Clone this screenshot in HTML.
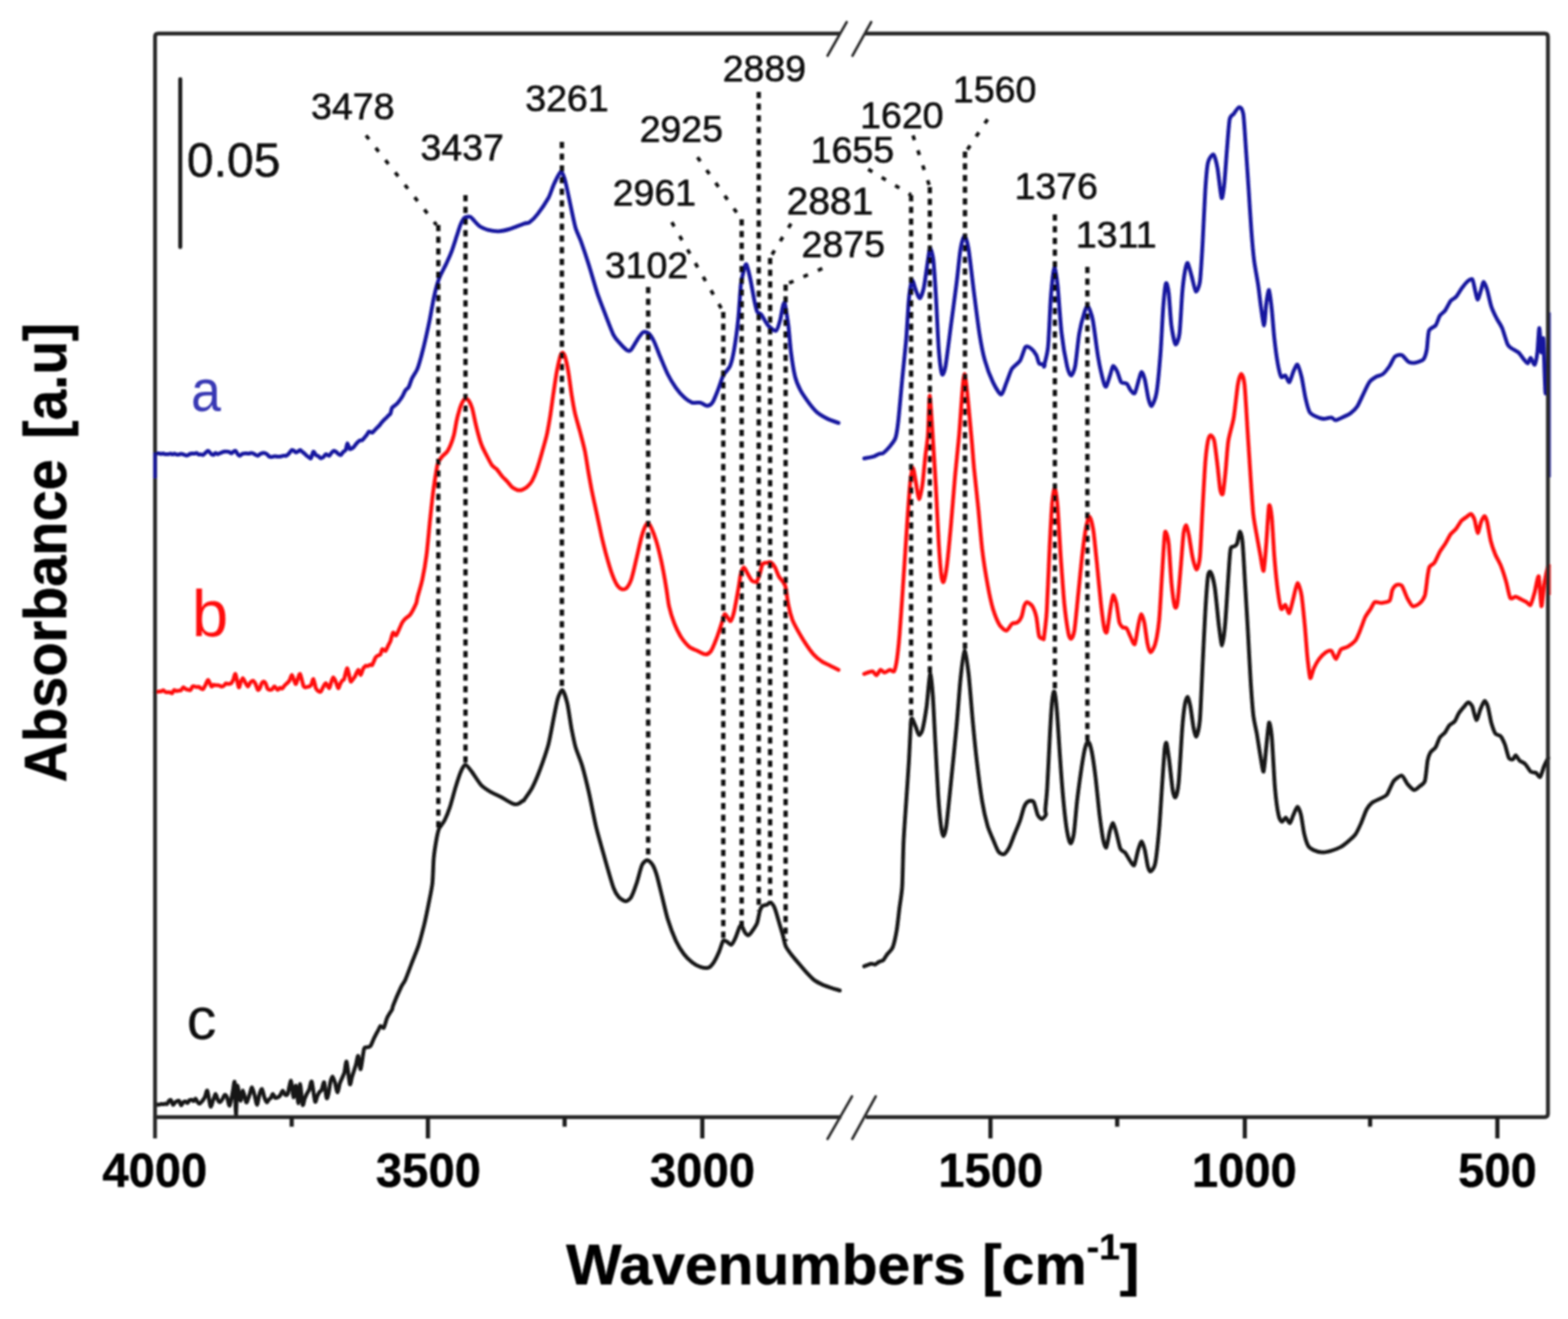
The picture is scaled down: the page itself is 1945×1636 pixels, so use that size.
<!DOCTYPE html>
<html lang="en"><head><meta charset="utf-8"><title>FTIR spectra</title>
<style>
html,body{margin:0;padding:0;background:#fff;}
body{width:1945px;height:1636px;overflow:hidden;}
svg{display:block;font-family:"Liberation Sans",Arial,Helvetica,sans-serif;}
.c{fill:none;stroke-width:4.8;stroke-linejoin:round;stroke-linecap:round;}
.d{fill:none;stroke:#0a0a0a;stroke-width:5.3;stroke-dasharray:7.8 6.7;}
.ds{fill:none;stroke:#111;stroke-width:4.4;stroke-dasharray:6 13.5;}
.f{fill:none;stroke:#262626;stroke-width:4.8;stroke-linecap:butt;}
.t{fill:none;stroke:#1e1e1e;stroke-width:5.2;}
.pk{font-size:46.5px;fill:#0a0a0a;stroke:#0a0a0a;stroke-width:0.7;}
.tk{font-size:58.5px;font-weight:bold;fill:#000;stroke:#000;stroke-width:0.5;text-anchor:middle;}
.ax{font-weight:bold;fill:#000;stroke:#000;stroke-width:0.6;}
</style></head><body>
<svg role="img" aria-label="FTIR absorbance spectra a, b and c versus wavenumbers" width="1945" height="1636" viewBox="0 0 1945 1636">
<defs><filter id="bl" x="-2%" y="-2%" width="104%" height="104%"><feGaussianBlur stdDeviation="0.9"/></filter></defs>
<rect width="1945" height="1636" fill="#fff"/>
<g filter="url(#bl)">
<path class="c" stroke="#161616" d="M192.3 1370.5C192.5 1370.5 193.0 1371.0 193.4 1370.9C193.8 1370.8 195.1 1369.9 195.6 1369.8C196.2 1369.8 197.3 1370.3 197.9 1370.2C198.4 1370.2 199.6 1369.2 200.2 1369.2C200.7 1369.1 201.9 1369.8 202.4 1369.7C203.0 1369.7 204.1 1368.9 204.7 1368.9C205.2 1368.8 206.6 1369.8 207.1 1369.4C207.7 1369.0 209.0 1366.1 209.6 1365.5C210.2 1364.9 211.5 1364.0 212.1 1364.6C212.7 1365.2 214.0 1370.0 214.6 1370.3C215.1 1370.7 216.4 1368.2 217.0 1367.6C217.6 1367.1 219.0 1366.1 219.6 1365.8C220.2 1365.5 221.5 1364.9 222.2 1365.5C222.8 1366.1 224.1 1370.7 224.7 1370.9C225.3 1371.1 226.7 1367.8 227.3 1367.2C227.9 1366.7 229.3 1366.1 229.9 1366.2C230.5 1366.3 231.8 1368.3 232.4 1368.1C233.1 1367.9 234.4 1365.2 235.0 1364.7C235.6 1364.3 237.0 1364.0 237.6 1364.1C238.2 1364.3 239.5 1365.8 240.1 1365.7C240.6 1365.5 241.9 1362.6 242.5 1362.7C243.1 1362.8 244.4 1366.0 245.0 1366.7C245.6 1367.5 246.9 1368.9 247.5 1368.9C248.0 1368.9 249.1 1367.8 249.9 1366.8C250.7 1365.9 253.2 1362.7 254.0 1361.1C254.9 1359.4 256.3 1351.5 257.1 1352.8C258.0 1354.2 260.4 1370.9 261.2 1372.4C262.1 1373.8 263.6 1366.7 264.3 1364.8C265.1 1363.0 266.7 1357.1 267.4 1356.9C268.1 1356.8 269.4 1362.6 270.0 1363.8C270.6 1365.1 271.9 1367.2 272.5 1367.2C273.2 1367.2 274.9 1364.9 275.6 1363.8C276.4 1362.7 278.0 1358.2 278.7 1358.0C279.5 1357.7 281.1 1359.9 281.8 1361.5C282.5 1363.1 284.0 1372.4 284.9 1371.3C285.7 1370.3 288.3 1356.3 289.0 1352.8C289.7 1349.4 290.6 1338.8 291.1 1342.5C291.5 1346.2 292.3 1383.2 292.7 1383.7C293.1 1384.2 293.7 1348.9 294.3 1346.7C295.0 1344.4 297.4 1364.4 298.3 1365.2C299.1 1365.9 300.5 1352.6 301.3 1352.8C302.2 1353.1 304.7 1366.0 305.4 1367.2C306.2 1368.4 307.3 1364.3 307.8 1362.9C308.4 1361.5 309.7 1357.2 310.2 1355.5C310.8 1353.8 312.0 1348.4 312.6 1348.7C313.3 1349.0 315.0 1355.5 315.7 1358.1C316.5 1360.7 318.1 1370.4 318.8 1370.3C319.6 1370.2 321.2 1359.5 321.9 1357.2C322.6 1354.8 324.2 1350.2 325.0 1350.8C325.7 1351.3 327.3 1359.7 328.1 1361.6C328.8 1363.6 330.5 1367.0 331.2 1367.2C331.8 1367.5 333.0 1364.2 333.6 1363.6C334.1 1363.0 335.4 1362.7 336.0 1361.9C336.5 1361.1 337.7 1357.0 338.4 1356.9C339.0 1356.9 340.7 1361.2 341.4 1361.7C342.2 1362.2 343.8 1361.4 344.5 1361.1C345.3 1360.7 346.9 1359.5 347.6 1358.5C348.3 1357.5 350.0 1352.9 350.7 1352.8C351.4 1352.8 353.0 1357.4 353.8 1357.9C354.5 1358.4 356.0 1359.0 356.9 1356.9C357.7 1354.8 360.1 1340.0 361.0 1340.5C361.8 1341.0 363.3 1360.3 364.1 1361.1C364.8 1361.8 366.4 1345.8 367.1 1346.7C367.9 1347.5 369.6 1368.5 370.2 1368.3C370.8 1368.0 371.7 1344.4 372.3 1344.6C372.9 1344.8 374.7 1368.1 375.4 1370.3C376.1 1372.5 377.3 1364.5 377.9 1362.9C378.6 1361.3 379.8 1358.3 380.5 1356.9C381.2 1355.6 382.9 1353.2 383.6 1351.4C384.3 1349.5 385.8 1339.7 386.7 1341.5C387.5 1343.3 390.0 1364.0 390.8 1366.2C391.6 1368.4 392.8 1361.5 393.4 1360.1C394.0 1358.8 395.3 1355.9 395.9 1354.9C396.6 1353.9 398.3 1353.3 399.0 1351.9C399.8 1350.4 401.4 1341.3 402.1 1342.5C402.8 1343.8 404.5 1360.5 405.2 1362.1C405.9 1363.7 407.0 1358.4 407.6 1355.9C408.2 1353.4 409.4 1343.8 410.0 1341.4C410.6 1338.9 411.7 1335.2 412.4 1335.3C413.0 1335.5 414.7 1340.2 415.5 1342.5C416.2 1344.8 417.8 1354.8 418.6 1354.9C419.3 1355.0 420.9 1345.8 421.6 1343.6C422.4 1341.4 424.1 1338.0 424.7 1336.4C425.4 1334.7 426.7 1332.3 427.3 1330.0C427.9 1327.6 429.1 1315.1 429.9 1316.8C430.7 1318.6 433.2 1342.3 434.0 1344.6C434.8 1346.9 435.9 1337.9 436.6 1335.9C437.2 1333.9 438.5 1330.1 439.1 1328.1C439.7 1326.2 441.1 1322.0 441.7 1319.8C442.3 1317.6 443.6 1308.9 444.3 1309.6C444.9 1310.4 446.5 1327.1 447.4 1326.1C448.2 1325.1 450.6 1304.7 451.5 1301.4C452.3 1298.2 453.5 1299.3 454.2 1299.0C454.9 1298.7 456.3 1298.9 456.9 1298.7C457.6 1298.5 458.9 1298.6 459.7 1297.3C460.5 1296.0 463.0 1289.8 463.8 1288.0C464.6 1286.3 465.9 1284.0 466.5 1282.7C467.2 1281.5 468.6 1278.8 469.3 1277.6C469.9 1276.4 471.2 1273.0 472.0 1272.6C472.9 1272.3 475.2 1275.9 476.1 1274.7C477.1 1273.4 479.0 1265.1 480.3 1262.3C481.5 1259.6 485.5 1253.8 486.4 1252.1C487.3 1250.3 486.2 1250.8 487.6 1247.4C488.9 1244.0 495.9 1227.7 497.7 1223.9C499.5 1220.0 501.1 1219.1 502.7 1215.5C504.3 1211.8 509.1 1198.9 511.1 1193.6C513.1 1188.4 517.7 1177.4 519.5 1171.7C521.3 1166.1 524.8 1152.4 526.3 1146.5C527.7 1140.7 530.1 1129.0 531.3 1123.0C532.5 1116.9 535.5 1103.1 536.3 1096.1C537.1 1089.1 537.4 1071.2 538.0 1064.6C538.6 1058.0 540.6 1045.5 541.4 1041.0C542.2 1036.6 543.5 1030.4 544.7 1027.6C546.0 1024.8 549.9 1020.7 551.5 1017.5C553.1 1014.3 556.6 1005.5 558.2 1000.7C559.8 995.8 563.3 982.4 564.9 977.1C566.5 971.9 570.2 960.4 571.7 957.0C573.1 953.5 575.8 948.6 577.4 948.6C579.0 948.6 582.8 953.9 585.1 957.0C587.4 960.0 594.0 970.8 596.9 973.8C599.7 976.8 605.6 980.4 608.6 982.2C611.7 984.0 618.9 987.2 622.1 988.9C625.3 990.6 633.1 995.6 635.5 996.6C638.0 997.7 640.5 997.8 642.3 997.3C644.0 996.8 649.1 992.9 650.0 992.3C650.9 991.7 648.8 994.1 650.0 992.3C651.2 990.5 657.7 981.8 660.1 977.1C662.5 972.5 667.8 960.1 670.2 953.6C672.6 947.1 678.2 931.0 680.3 923.3C682.3 915.7 685.6 896.6 687.0 889.7C688.4 882.9 690.7 870.2 692.0 866.2C693.3 862.1 696.3 855.3 697.7 856.1C699.2 856.9 702.5 867.3 703.8 872.9C705.1 878.6 707.6 896.7 708.8 903.2C710.1 909.6 712.3 921.1 713.9 926.7C715.5 932.4 720.3 943.4 722.3 950.2C724.3 957.1 728.7 975.0 730.7 983.9C732.7 992.7 736.9 1014.9 739.1 1024.2C741.3 1033.5 746.6 1052.0 749.2 1061.2C751.8 1070.4 758.7 1094.9 761.0 1101.1C763.2 1107.3 765.9 1110.9 767.7 1112.9C769.5 1114.9 774.3 1117.9 776.1 1117.9C777.9 1117.9 781.2 1115.5 782.8 1112.9C784.4 1110.3 787.9 1100.9 789.5 1096.1C791.2 1091.3 794.7 1076.5 796.3 1073.0C797.9 1069.5 801.4 1066.9 803.0 1066.9C804.6 1066.9 808.3 1070.7 809.7 1073.0C811.1 1075.3 813.4 1081.2 814.8 1086.0C816.2 1090.8 819.9 1106.4 821.5 1112.9C823.1 1119.4 826.2 1133.3 828.2 1139.8C830.2 1146.3 835.9 1161.5 838.3 1166.7C840.7 1171.9 846.0 1180.3 848.4 1183.5C850.8 1186.7 856.1 1191.7 858.5 1193.6C860.9 1195.5 866.2 1198.5 868.6 1199.3C871.0 1200.1 876.6 1201.0 878.7 1200.3C880.7 1199.6 883.8 1196.0 885.4 1193.6C887.0 1191.2 890.7 1183.4 892.1 1180.2C893.5 1176.9 895.9 1168.1 897.2 1166.7C898.4 1165.3 901.0 1167.8 902.2 1168.4C903.4 1169.0 906.0 1172.4 907.2 1171.7C908.5 1171.1 911.1 1166.0 912.3 1163.3C913.5 1160.7 916.4 1151.7 917.3 1149.9C918.3 1148.1 919.2 1147.4 920.0 1148.2C920.8 1149.0 923.0 1155.2 924.1 1156.6C925.1 1158.0 927.2 1160.4 928.4 1160.0C929.6 1159.6 932.9 1155.1 934.1 1153.3C935.4 1151.4 938.2 1147.7 939.2 1144.8C940.2 1142.0 941.7 1132.3 942.6 1129.7C943.4 1127.2 944.9 1124.5 945.9 1123.7C946.9 1122.8 949.7 1122.8 951.0 1122.3C952.2 1121.8 954.8 1119.1 956.0 1119.6C957.2 1120.1 959.8 1123.5 961.0 1126.4C962.3 1129.2 964.9 1139.1 966.1 1143.2C967.3 1147.2 970.1 1156.3 971.1 1160.0C972.1 1163.6 973.3 1170.6 974.5 1173.4C975.7 1176.3 979.4 1181.1 981.2 1183.5C983.0 1185.9 987.4 1191.0 989.6 1193.6C991.8 1196.2 997.3 1202.8 999.7 1205.4C1002.1 1208.0 1007.4 1213.6 1009.8 1215.5C1012.2 1217.4 1017.5 1220.0 1019.9 1221.2C1022.3 1222.3 1027.4 1224.0 1030.0 1224.9C1032.6 1225.8 1040.3 1228.1 1041.7 1228.6"/>
<path class="c" stroke="#161616" d="M1072.0 1198.6C1073.0 1198.2 1078.8 1195.6 1080.4 1195.3C1082.0 1195.0 1084.3 1196.6 1085.5 1196.3C1086.7 1196.0 1089.3 1193.6 1090.5 1192.9C1091.7 1192.3 1094.3 1192.0 1095.6 1190.9C1096.8 1189.8 1099.2 1185.4 1100.6 1183.5C1102.0 1181.6 1105.9 1178.7 1107.3 1175.1C1108.7 1171.5 1111.4 1159.1 1112.4 1153.3C1113.4 1147.4 1114.9 1132.8 1115.7 1126.4C1116.5 1119.9 1118.5 1109.3 1119.1 1099.5C1119.7 1089.6 1120.2 1057.1 1120.8 1044.4C1121.4 1031.7 1123.3 1006.1 1124.1 994.0C1124.9 981.9 1126.8 955.2 1127.5 943.5C1128.2 931.8 1129.4 902.7 1129.8 896.4C1130.3 890.2 1130.8 890.8 1131.5 891.4C1132.3 892.0 1134.9 899.1 1135.9 901.5C1136.9 903.9 1138.9 911.2 1139.9 911.6C1140.9 912.0 1143.2 909.1 1144.3 904.8C1145.4 900.6 1148.2 884.5 1149.4 876.3C1150.5 868.0 1152.8 837.5 1153.7 835.9C1154.7 834.3 1156.3 851.9 1157.1 862.8C1157.9 873.7 1159.6 911.8 1160.5 926.7C1161.3 941.6 1163.0 975.5 1163.8 987.2C1164.6 998.9 1166.4 1018.2 1167.2 1024.2C1167.9 1030.2 1169.4 1037.0 1170.2 1037.0C1171.0 1037.0 1172.8 1032.2 1173.9 1024.2C1175.0 1016.2 1178.1 984.9 1179.6 970.4C1181.1 955.9 1184.9 918.5 1186.3 903.2C1187.8 887.8 1190.2 854.1 1191.4 842.6C1192.6 831.1 1195.2 808.1 1196.4 807.3C1197.6 806.5 1200.3 825.6 1201.5 835.9C1202.7 846.2 1205.3 880.2 1206.5 893.1C1207.7 906.0 1210.2 931.4 1211.6 943.5C1213.0 955.6 1216.7 984.3 1218.3 994.0C1219.9 1003.6 1223.4 1018.6 1225.0 1024.2C1226.6 1029.9 1230.1 1037.2 1231.7 1041.0C1233.4 1044.9 1236.8 1053.9 1238.5 1056.2C1240.1 1058.4 1243.6 1060.1 1245.2 1059.5C1246.8 1058.9 1250.3 1054.1 1251.9 1051.1C1253.5 1048.1 1257.0 1038.3 1258.6 1034.3C1260.3 1030.3 1264.0 1021.5 1265.4 1017.5C1266.8 1013.5 1269.2 1003.5 1270.4 1000.7C1271.6 997.9 1274.0 994.7 1275.5 994.0C1276.9 993.2 1280.8 992.6 1282.2 994.6C1283.6 996.6 1286.0 1008.2 1287.2 1010.8C1288.4 1013.3 1291.1 1015.8 1292.3 1015.8C1293.5 1015.8 1296.8 1012.2 1297.3 1010.8C1297.8 1009.4 1296.5 1008.1 1296.7 1004.0C1296.9 1000.0 1298.3 988.4 1299.0 977.1C1299.7 965.8 1301.7 922.8 1302.4 909.9C1303.1 897.0 1304.4 875.8 1305.1 869.5C1305.7 863.3 1307.1 856.2 1307.8 857.8C1308.5 859.4 1310.3 872.7 1311.1 883.0C1312.0 893.3 1314.2 930.2 1315.2 943.5C1316.1 956.8 1318.2 983.5 1319.2 994.0C1320.2 1004.4 1322.5 1024.7 1323.6 1030.9C1324.6 1037.2 1326.9 1045.7 1328.0 1046.1C1329.0 1046.5 1331.0 1040.6 1332.0 1034.3C1333.0 1028.1 1335.0 1002.8 1336.0 994.0C1337.0 985.1 1339.3 968.0 1340.4 960.3C1341.5 952.7 1344.4 934.9 1345.4 930.1C1346.5 925.2 1348.5 920.0 1349.5 920.0C1350.5 920.0 1352.7 924.8 1353.8 930.1C1355.0 935.3 1357.7 954.0 1358.9 963.7C1360.1 973.4 1362.8 1001.5 1363.9 1010.8C1365.1 1020.1 1367.3 1036.2 1368.3 1041.0C1369.3 1045.9 1371.3 1052.3 1372.3 1051.1C1373.3 1049.9 1375.7 1034.6 1376.7 1030.9C1377.7 1027.3 1379.7 1020.5 1380.7 1020.9C1381.8 1021.3 1384.0 1030.5 1385.1 1034.3C1386.2 1038.1 1388.5 1050.0 1389.8 1052.8C1391.1 1055.6 1394.4 1056.0 1395.9 1057.8C1397.3 1059.7 1400.6 1066.1 1401.9 1067.9C1403.3 1069.8 1405.8 1074.6 1407.0 1073.0C1408.1 1071.4 1410.6 1058.0 1411.7 1054.5C1412.8 1051.0 1415.0 1043.7 1416.1 1043.7C1417.1 1043.7 1419.2 1050.8 1420.1 1054.5C1421.0 1058.2 1422.9 1071.5 1423.8 1074.7C1424.6 1077.8 1426.1 1081.1 1427.2 1080.7C1428.2 1080.3 1431.6 1077.7 1432.9 1071.3C1434.2 1064.9 1436.9 1038.9 1437.9 1027.6C1438.9 1016.3 1440.5 988.8 1441.3 977.1C1442.1 965.4 1444.0 936.7 1444.6 930.1C1445.3 923.4 1446.3 920.0 1447.0 921.7C1447.7 923.3 1449.4 936.5 1450.4 943.5C1451.3 950.6 1453.8 975.1 1454.7 980.5C1455.7 986.0 1457.2 990.1 1458.1 988.9C1459.0 987.7 1461.1 980.7 1462.1 970.4C1463.1 960.1 1465.6 914.9 1466.5 903.2C1467.4 891.5 1469.1 877.5 1469.9 872.9C1470.7 868.3 1472.4 864.1 1473.2 864.5C1474.0 864.9 1475.7 871.6 1476.6 876.3C1477.5 880.9 1479.7 898.7 1480.6 903.2C1481.5 907.6 1483.1 914.5 1484.0 913.3C1484.9 912.0 1487.4 903.6 1488.4 893.1C1489.3 882.6 1490.9 842.0 1491.7 825.8C1492.5 809.7 1494.3 771.9 1495.1 758.6C1495.9 745.3 1497.6 720.7 1498.4 714.9C1499.2 709.0 1500.8 708.2 1501.8 709.8C1502.8 711.4 1505.6 720.4 1506.8 728.3C1508.1 736.2 1510.8 766.7 1511.9 775.4C1513.0 784.1 1515.0 800.6 1515.9 800.6C1516.9 800.6 1518.7 785.7 1519.6 775.4C1520.6 765.1 1522.9 726.2 1523.7 714.9C1524.5 703.6 1525.5 685.7 1526.4 681.2C1527.2 676.8 1529.4 678.7 1530.4 677.9C1531.4 677.1 1533.5 676.7 1534.4 674.5C1535.3 672.3 1537.0 659.8 1537.8 659.4C1538.6 659.0 1540.3 663.3 1541.1 671.1C1542.0 679.0 1543.7 711.6 1544.5 724.9C1545.3 738.3 1547.1 768.0 1547.9 782.1C1548.7 796.2 1550.4 830.1 1551.2 842.6C1552.0 855.1 1553.7 878.3 1554.6 886.4C1555.5 894.4 1557.9 903.8 1559.0 909.9C1560.0 915.9 1562.3 931.1 1563.3 936.8C1564.3 942.4 1566.5 958.2 1567.4 957.0C1568.3 955.8 1569.9 934.0 1570.7 926.7C1571.5 919.4 1573.3 898.1 1574.1 896.4C1574.9 894.8 1576.6 903.6 1577.5 913.3C1578.4 922.9 1580.5 965.4 1581.5 977.1C1582.5 988.8 1584.8 1005.7 1585.9 1010.8C1586.9 1015.8 1589.2 1018.8 1590.2 1019.2C1591.3 1019.6 1593.8 1013.9 1594.9 1014.1C1596.1 1014.3 1598.9 1021.3 1600.0 1020.9C1601.1 1020.5 1603.2 1013.2 1604.4 1010.8C1605.5 1008.3 1608.3 1000.7 1609.4 1000.7C1610.5 1000.7 1612.8 1006.7 1613.8 1010.8C1614.8 1014.8 1616.7 1029.7 1617.8 1034.3C1618.9 1038.9 1621.4 1047.0 1622.9 1049.4C1624.3 1051.9 1627.6 1053.6 1629.6 1054.5C1631.6 1055.4 1637.0 1057.1 1639.7 1057.2C1642.3 1057.3 1648.6 1056.0 1651.4 1055.2C1654.3 1054.4 1660.6 1051.9 1663.2 1050.5C1665.8 1049.0 1671.1 1044.7 1673.3 1042.7C1675.5 1040.8 1679.9 1036.9 1681.7 1034.3C1683.5 1031.7 1686.8 1024.5 1688.4 1020.9C1690.0 1017.2 1693.5 1007.1 1695.2 1004.0C1696.8 1001.0 1699.9 997.3 1701.9 995.6C1703.9 994.0 1709.7 991.8 1712.0 990.6C1714.2 989.4 1718.4 988.2 1720.4 985.6C1722.4 982.9 1726.6 971.6 1728.8 968.7C1731.0 965.9 1736.9 961.6 1738.9 962.0C1740.9 962.4 1743.8 970.0 1745.6 972.1C1747.4 974.2 1752.2 979.4 1754.0 979.8C1755.8 980.2 1759.1 976.8 1760.7 975.5C1762.3 974.1 1766.2 972.6 1767.5 968.7C1768.7 964.9 1770.0 947.8 1770.8 943.5C1771.6 939.3 1773.0 935.4 1774.2 933.4C1775.4 931.4 1779.5 928.9 1780.9 926.7C1782.3 924.5 1784.5 917.2 1785.9 914.9C1787.4 912.7 1791.3 910.0 1792.7 908.2C1794.1 906.4 1796.3 901.4 1797.7 899.8C1799.1 898.2 1803.0 896.6 1804.4 894.8C1805.9 892.9 1808.1 886.9 1809.5 884.7C1810.9 882.5 1814.8 877.9 1816.2 876.3C1817.6 874.7 1820.0 871.2 1821.3 871.2C1822.5 871.2 1825.1 873.6 1826.3 876.3C1827.5 878.9 1830.1 892.7 1831.3 893.1C1832.6 893.5 1835.2 882.5 1836.4 879.6C1837.6 876.8 1840.3 869.9 1841.4 869.5C1842.5 869.1 1844.5 873.0 1845.5 876.3C1846.5 879.5 1848.7 892.4 1849.8 896.4C1851.0 900.5 1853.5 907.9 1854.9 909.9C1856.3 911.9 1860.2 911.6 1861.6 913.3C1863.0 914.9 1865.4 920.1 1866.7 923.3C1867.9 926.6 1870.5 937.9 1871.7 940.2C1872.9 942.4 1875.7 942.2 1876.7 941.8C1877.7 941.4 1879.1 936.6 1880.1 936.8C1881.1 937.0 1883.7 942.2 1885.1 943.5C1886.6 944.8 1890.3 945.9 1891.9 947.6C1893.5 949.2 1897.0 955.6 1898.6 957.0C1900.2 958.3 1903.9 957.8 1905.3 958.6C1906.7 959.5 1909.2 964.7 1910.4 963.7C1911.6 962.7 1914.2 953.1 1915.4 950.2C1916.6 947.4 1919.8 941.4 1920.5 940.2"/>
<path class="c" stroke="#ff1010" d="M192.3 858.8C192.4 858.7 192.4 858.4 192.8 858.3C193.1 858.2 194.6 858.0 195.2 858.0C195.8 857.9 197.1 857.8 197.7 857.7C198.3 857.6 199.6 857.6 200.2 857.4C200.7 857.2 202.0 856.1 202.6 856.2C203.2 856.4 204.7 858.1 205.4 858.4C206.0 858.7 207.4 858.7 208.1 858.7C208.8 858.8 210.2 858.6 210.8 858.7C211.5 858.9 212.8 860.2 213.4 859.9C214.0 859.5 215.4 856.1 216.0 855.8C216.6 855.5 217.9 856.9 218.6 857.0C219.2 857.1 220.5 856.7 221.1 856.7C221.8 856.6 223.5 856.9 224.2 856.4C225.0 855.9 226.6 852.7 227.3 852.5C228.0 852.3 229.6 854.3 230.4 854.7C231.1 855.1 232.8 855.5 233.5 855.6C234.2 855.8 235.6 856.4 236.2 855.9C236.9 855.3 238.3 851.9 239.0 851.3C239.6 850.8 241.1 851.4 241.7 851.5C242.3 851.6 243.7 852.1 244.3 852.2C244.9 852.2 246.2 851.8 246.8 852.0C247.5 852.3 248.8 853.7 249.4 854.0C250.0 854.3 251.3 855.2 252.0 854.6C252.7 854.0 254.3 850.6 255.1 849.2C255.8 847.9 257.3 843.0 258.1 843.3C259.0 843.6 261.5 850.8 262.3 851.5C263.1 852.2 264.2 849.5 264.8 849.3C265.4 849.1 266.8 849.8 267.4 849.9C268.0 849.9 269.4 849.8 270.0 849.9C270.6 849.9 271.9 850.3 272.5 850.5C273.2 850.7 274.5 851.6 275.1 851.6C275.7 851.6 277.1 851.0 277.7 850.5C278.3 850.0 279.6 847.8 280.3 847.6C280.9 847.3 282.0 848.5 282.8 848.4C283.6 848.4 286.1 848.1 286.9 847.4C287.7 846.7 288.9 844.3 289.5 842.9C290.1 841.6 291.3 834.9 292.1 836.1C292.9 837.2 295.4 851.4 296.2 852.5C297.0 853.7 298.1 846.8 298.8 845.4C299.4 844.1 300.7 841.1 301.3 841.2C302.0 841.4 303.7 845.6 304.4 846.8C305.2 848.1 306.8 851.6 307.5 851.5C308.2 851.5 309.9 847.3 310.6 846.4C311.3 845.6 312.9 844.1 313.7 844.3C314.4 844.5 316.0 846.6 316.8 848.0C317.5 849.3 319.2 854.9 319.8 855.6C320.5 856.3 321.7 854.6 322.2 853.7C322.8 852.7 324.1 848.6 324.6 847.6C325.2 846.6 326.5 845.3 327.0 845.3C327.6 845.3 328.9 846.6 329.4 847.6C330.0 848.7 331.3 853.2 331.8 854.1C332.4 855.1 333.6 855.5 334.2 855.6C334.9 855.7 336.6 855.6 337.3 855.1C338.1 854.6 339.5 851.4 340.4 851.5C341.3 851.6 343.7 855.4 344.5 855.6C345.3 855.8 346.6 853.3 347.3 853.1C347.9 852.9 349.4 854.4 350.0 854.0C350.7 853.7 352.1 851.3 352.8 850.5C353.4 849.7 355.1 848.3 355.8 847.6C356.6 846.8 358.2 845.6 358.9 844.3C359.7 843.1 361.3 837.2 362.0 837.1C362.7 837.0 364.0 842.1 364.6 843.5C365.2 844.8 366.5 848.7 367.1 848.4C367.8 848.1 369.1 842.6 369.7 841.1C370.3 839.6 371.5 835.0 372.3 836.1C373.1 837.2 375.6 848.5 376.4 850.5C377.2 852.5 378.2 852.4 378.8 852.6C379.4 852.8 380.6 852.1 381.2 851.9C381.8 851.8 383.0 851.9 383.6 851.5C384.2 851.1 385.6 849.9 386.2 848.8C386.8 847.6 388.1 841.7 388.7 842.3C389.4 842.8 391.1 851.8 391.8 853.6C392.6 855.4 394.2 856.7 394.9 857.2C395.7 857.7 397.3 858.3 398.0 857.7C398.7 857.0 400.3 853.0 401.1 851.7C401.8 850.5 403.3 847.2 404.2 847.4C405.0 847.6 407.5 853.7 408.3 853.6C409.1 853.4 410.2 847.9 410.8 846.3C411.5 844.7 412.7 840.3 413.4 840.2C414.1 840.1 415.8 843.9 416.5 845.6C417.2 847.2 418.9 853.2 419.6 853.6C420.2 853.9 421.4 849.5 422.0 848.4C422.6 847.3 423.8 845.0 424.4 844.3C425.0 843.6 426.1 844.1 426.8 842.3C427.5 840.4 429.8 829.6 430.5 828.9C431.2 828.2 432.2 834.4 432.8 836.3C433.3 838.3 434.4 844.6 435.0 845.3C435.6 846.1 437.0 843.4 437.6 842.7C438.2 841.9 439.4 840.6 440.2 839.2C441.0 837.8 443.4 831.2 444.3 831.0C445.1 830.7 446.6 837.3 447.4 837.1C448.1 836.9 449.7 830.8 450.4 829.5C451.2 828.1 452.8 826.2 453.5 825.8C454.2 825.4 455.6 826.3 456.3 826.2C456.9 826.0 458.3 824.7 459.0 824.5C459.7 824.3 460.9 825.9 461.7 824.8C462.6 823.7 465.0 816.9 465.9 815.5C466.7 814.1 468.2 813.6 468.9 813.1C469.7 812.6 471.4 812.4 472.0 811.4C472.6 810.5 473.3 805.7 474.1 805.2C474.8 804.8 477.3 807.8 478.2 807.3C479.1 806.8 480.5 802.6 481.3 801.1C482.0 799.7 483.6 796.9 484.4 795.0C485.1 793.0 486.6 785.5 487.5 784.7C488.3 783.8 490.2 789.2 491.6 787.8C492.9 786.3 497.4 774.8 498.8 772.3C500.1 769.9 501.6 768.4 502.9 767.2C504.1 766.0 507.5 764.3 509.0 762.1C510.6 759.8 515.1 751.0 516.2 748.5C517.2 745.9 516.9 744.5 517.9 740.8C518.8 737.2 522.7 724.6 524.0 718.2C525.4 711.8 528.1 696.0 529.2 687.4C530.3 678.7 532.3 655.6 533.3 646.2C534.3 636.8 536.4 616.9 537.4 609.2C538.4 601.6 540.8 586.8 541.5 582.5C542.3 578.1 542.7 575.2 543.6 573.2C544.4 571.2 547.4 567.6 548.7 566.0C550.1 564.4 553.7 561.6 554.9 559.8C556.1 558.1 558.0 554.1 559.0 551.6C560.0 549.2 562.2 542.7 563.1 539.3C564.0 535.8 565.5 526.3 566.2 522.8C566.9 519.4 568.4 513.3 569.3 510.5C570.1 507.7 572.4 501.1 573.4 499.2C574.4 497.3 576.5 494.7 577.5 494.4C578.5 494.2 580.6 495.7 581.6 497.1C582.6 498.6 584.7 503.0 585.7 506.4C586.7 509.7 588.9 520.7 589.8 524.9C590.8 529.1 593.0 537.9 594.0 541.3C594.9 544.8 596.8 550.7 598.1 553.7C599.3 556.6 602.8 563.2 604.2 566.0C605.7 568.9 608.9 575.4 610.4 577.3C611.9 579.3 615.1 580.9 616.6 582.5C618.1 584.1 621.3 589.0 622.8 590.7C624.2 592.4 627.4 595.3 628.9 596.9C630.4 598.5 633.6 602.8 635.1 604.1C636.6 605.3 639.8 607.1 641.3 607.6C642.7 608.0 645.9 608.0 647.4 607.6C648.9 607.1 652.1 605.3 653.6 604.1C655.1 602.8 658.3 599.5 659.8 596.9C661.2 594.3 664.5 586.7 665.9 582.5C667.4 578.3 670.6 567.1 672.1 561.9C673.6 556.7 677.0 544.7 678.3 539.3C679.5 533.9 681.4 522.8 682.4 516.7C683.4 510.5 685.5 494.5 686.5 487.9C687.5 481.2 689.6 466.6 690.6 461.1C691.6 455.7 693.9 445.5 694.7 442.6C695.6 439.8 697.1 437.5 697.8 437.5C698.6 437.5 700.0 439.8 700.9 442.6C701.8 445.5 704.0 455.5 705.0 461.1C706.0 466.8 708.1 483.8 709.1 489.9C710.1 496.1 712.0 507.1 713.2 512.5C714.5 518.0 717.9 529.5 719.4 535.2C720.9 540.8 724.3 553.9 725.6 559.8C726.8 565.8 728.7 578.8 729.7 584.5C730.7 590.2 732.6 601.0 733.8 607.1C735.0 613.3 738.5 629.0 740.0 635.9C741.5 642.8 744.7 658.3 746.1 664.7C747.6 671.1 750.8 684.0 752.3 689.4C753.8 694.8 757.0 705.8 758.5 710.0C760.0 714.2 763.2 721.9 764.7 724.4C766.1 726.8 769.3 729.9 770.8 730.5C772.3 731.2 775.5 731.0 777.0 729.5C778.5 728.0 781.7 722.5 783.2 718.2C784.6 713.9 787.9 699.7 789.3 693.5C790.8 687.4 794.3 671.5 795.5 666.8C796.7 662.1 798.7 656.6 799.6 654.4C800.6 652.3 802.3 648.7 803.3 648.7C804.3 648.7 806.6 651.8 807.8 654.4C809.1 657.1 812.5 666.0 814.0 670.9C815.5 675.8 818.7 688.7 820.2 695.6C821.7 702.5 825.2 721.7 826.3 728.5C827.5 735.2 828.7 746.4 829.9 751.8C831.1 757.3 834.8 769.1 836.6 773.7C838.4 778.3 842.8 787.1 845.0 790.5C847.3 793.9 852.7 800.3 855.1 802.3C857.5 804.3 862.8 806.2 865.2 807.3C867.6 808.5 873.3 811.7 875.3 811.7C877.3 811.7 880.4 809.7 882.0 807.3C883.6 805.0 887.1 796.4 888.7 792.2C890.4 788.0 894.3 775.7 895.5 772.0C896.7 768.4 898.0 762.7 898.8 761.9C899.6 761.1 901.3 764.3 902.2 765.3C903.1 766.3 905.2 771.1 906.2 770.3C907.2 769.5 909.5 763.2 910.6 758.6C911.7 753.9 914.6 737.3 915.6 731.7C916.7 726.0 918.1 714.8 919.0 711.5C919.9 708.1 922.0 703.8 923.0 703.8C924.1 703.8 926.3 709.6 927.4 711.5C928.5 713.4 931.1 718.7 932.5 719.9C933.8 721.1 937.3 722.6 938.5 721.6C939.7 720.6 941.7 714.1 942.6 711.5C943.4 708.9 944.9 701.3 945.9 699.7C946.9 698.1 949.7 698.3 951.0 698.0C952.2 697.8 954.8 696.8 956.0 697.4C957.2 698.0 959.8 701.0 961.0 703.1C962.3 705.2 964.9 712.6 966.1 714.9C967.3 717.1 970.1 720.0 971.1 721.6C972.1 723.2 973.7 724.9 974.5 728.3C975.3 731.7 976.8 745.3 977.9 750.2C978.9 755.0 981.5 764.8 982.9 768.7C984.3 772.5 987.6 778.5 989.6 782.1C991.6 785.7 997.3 795.3 999.7 798.9C1002.1 802.6 1007.4 809.8 1009.8 812.4C1012.2 815.0 1017.5 819.2 1019.9 820.8C1022.3 822.4 1027.6 824.6 1030.0 825.8C1032.4 827.0 1038.9 830.3 1040.1 830.9"/>
<path class="c" stroke="#ff1010" d="M1072.0 835.9C1073.2 835.5 1080.3 832.3 1082.1 832.6C1083.9 832.8 1085.9 837.8 1087.1 837.6C1088.4 837.4 1091.0 831.3 1092.2 830.9C1093.4 830.5 1095.8 834.2 1097.2 834.2C1098.6 834.2 1102.5 831.1 1104.0 830.9C1105.4 830.7 1108.0 834.0 1109.0 832.6C1110.0 831.1 1111.6 824.3 1112.4 819.1C1113.2 813.9 1114.9 798.1 1115.7 788.8C1116.5 779.6 1118.3 753.5 1119.1 741.8C1119.9 730.1 1121.6 703.4 1122.5 691.3C1123.3 679.2 1125.0 652.2 1125.8 640.9C1126.6 629.6 1128.4 604.4 1129.2 597.2C1130.0 589.9 1131.7 580.4 1132.5 580.4C1133.3 580.4 1135.0 592.5 1135.9 597.2C1136.8 601.8 1138.9 618.6 1139.9 619.0C1140.9 619.4 1143.4 606.8 1144.3 600.5C1145.2 594.3 1146.9 574.2 1147.7 566.9C1148.5 559.6 1150.3 549.1 1151.0 540.0C1151.7 530.9 1152.6 489.3 1153.4 490.9C1154.2 492.6 1156.8 539.5 1157.8 553.5C1158.7 567.4 1160.3 592.7 1161.1 607.3C1161.9 621.8 1163.7 661.6 1164.5 674.5C1165.3 687.4 1167.1 709.2 1167.8 714.9C1168.6 720.5 1169.7 723.2 1170.5 721.6C1171.3 720.0 1173.5 709.9 1174.6 701.4C1175.7 692.9 1178.4 664.3 1179.6 651.0C1180.8 637.7 1183.5 603.8 1184.7 590.4C1185.9 577.1 1188.3 555.2 1189.7 540.0C1191.1 524.8 1194.6 464.0 1196.4 464.0C1198.2 464.0 1203.4 526.0 1204.8 540.0C1206.2 554.0 1207.2 569.9 1208.2 580.4C1209.2 590.8 1212.0 615.3 1213.2 627.4C1214.5 639.5 1216.9 669.5 1218.3 681.2C1219.7 692.9 1223.4 716.1 1225.0 724.9C1226.6 733.8 1229.9 749.2 1231.7 755.2C1233.6 761.3 1238.1 772.2 1240.1 775.4C1242.2 778.6 1246.7 782.3 1248.6 782.1C1250.4 781.9 1253.7 774.9 1255.3 773.7C1256.9 772.5 1260.6 773.0 1262.0 772.0C1263.4 771.0 1266.0 767.7 1267.0 765.3C1268.1 762.9 1269.6 754.1 1270.4 751.8C1271.2 749.6 1272.6 746.8 1273.8 746.8C1275.0 746.8 1279.1 749.6 1280.5 751.8C1281.9 754.1 1284.5 760.9 1285.5 765.3C1286.5 769.7 1287.9 785.6 1288.9 788.8C1289.9 792.1 1293.2 792.0 1293.9 792.2C1294.7 792.4 1294.5 794.6 1295.0 790.5C1295.5 786.5 1297.6 771.3 1298.4 758.6C1299.2 745.9 1300.9 700.7 1301.7 684.6C1302.5 668.5 1304.3 633.5 1305.1 624.1C1305.9 614.6 1307.6 605.2 1308.5 605.6C1309.3 606.0 1310.9 617.1 1311.8 627.4C1312.7 637.7 1314.8 676.8 1315.8 691.3C1316.9 705.8 1319.1 737.2 1320.2 748.5C1321.3 759.8 1324.3 780.2 1325.3 785.5C1326.3 790.7 1327.7 792.6 1328.6 792.2C1329.5 791.8 1331.7 788.2 1332.7 782.1C1333.7 776.1 1335.9 752.7 1337.0 741.8C1338.2 730.9 1340.9 701.8 1342.1 691.3C1343.3 680.8 1346.0 660.4 1347.1 654.3C1348.3 648.3 1350.4 640.5 1351.5 640.9C1352.6 641.3 1355.1 650.8 1356.2 657.7C1357.3 664.6 1359.4 687.1 1360.6 698.0C1361.7 708.9 1364.5 738.8 1365.6 748.5C1366.7 758.2 1368.8 774.5 1369.7 778.7C1370.5 783.0 1372.1 786.6 1373.0 783.8C1373.9 781.0 1376.5 760.7 1377.4 755.2C1378.3 749.8 1379.9 739.2 1380.7 738.4C1381.6 737.6 1383.9 744.4 1384.8 748.5C1385.7 752.5 1387.6 768.5 1388.5 772.0C1389.4 775.6 1391.4 777.2 1392.5 778.1C1393.6 779.0 1396.4 777.9 1397.6 779.4C1398.8 780.9 1401.4 788.2 1402.6 790.5C1403.8 792.9 1406.5 800.7 1407.6 798.9C1408.8 797.1 1411.1 779.8 1412.0 775.4C1412.9 770.9 1414.5 762.3 1415.4 761.9C1416.3 761.5 1418.4 767.6 1419.4 772.0C1420.4 776.5 1422.5 794.5 1423.5 798.9C1424.4 803.4 1426.0 809.0 1427.2 809.0C1428.3 809.0 1431.6 803.8 1432.9 798.9C1434.2 794.1 1436.9 778.7 1437.9 768.7C1438.9 758.6 1440.5 727.4 1441.3 714.9C1442.1 702.3 1444.0 671.0 1444.6 664.4C1445.2 657.9 1445.7 659.2 1446.3 660.4C1446.9 661.6 1448.9 667.2 1449.7 674.5C1450.5 681.8 1452.2 712.3 1453.0 721.6C1453.9 730.9 1456.2 748.6 1457.1 751.8C1458.0 755.1 1459.5 754.5 1460.4 748.5C1461.4 742.4 1463.9 711.9 1464.8 701.4C1465.7 690.9 1467.4 667.0 1468.2 661.1C1469.0 655.1 1470.7 651.2 1471.5 651.6C1472.3 652.0 1474.0 659.7 1474.9 664.4C1475.8 669.2 1478.2 686.3 1479.3 691.3C1480.4 696.4 1482.9 706.5 1484.0 706.5C1485.1 706.5 1487.4 700.4 1488.4 691.3C1489.3 682.2 1490.9 644.9 1491.7 630.8C1492.5 616.7 1494.3 583.7 1495.1 573.6C1495.9 563.5 1497.6 550.8 1498.4 546.7C1499.2 542.7 1500.9 540.0 1501.8 540.0C1502.7 540.0 1505.2 542.3 1506.2 546.7C1507.2 551.2 1509.3 569.7 1510.2 577.0C1511.1 584.3 1512.8 603.0 1513.6 607.3C1514.4 611.5 1516.1 615.1 1516.9 612.3C1517.7 609.5 1519.5 591.6 1520.3 583.7C1521.1 575.8 1522.4 554.6 1523.7 546.7C1524.9 538.8 1529.0 526.2 1530.4 517.8C1531.8 509.5 1534.3 484.0 1535.4 477.5C1536.5 471.0 1538.5 464.0 1539.5 464.0C1540.5 464.0 1542.8 468.4 1543.8 477.5C1544.8 486.6 1547.0 526.4 1547.9 540.0C1548.8 553.6 1550.4 578.7 1551.2 590.4C1552.0 602.1 1553.7 628.6 1554.6 637.5C1555.5 646.4 1557.9 658.4 1559.0 664.4C1560.0 670.5 1562.3 682.7 1563.3 688.0C1564.3 693.2 1566.5 709.7 1567.4 708.1C1568.3 706.5 1569.9 684.2 1570.7 674.5C1571.5 664.8 1573.3 631.5 1574.1 627.4C1574.9 623.4 1576.7 633.2 1577.5 640.9C1578.3 648.5 1579.9 680.4 1580.8 691.3C1581.7 702.2 1583.9 724.0 1584.9 731.7C1585.9 739.3 1588.1 753.0 1589.2 755.2C1590.4 757.4 1593.1 749.6 1594.3 750.2C1595.5 750.8 1598.1 761.3 1599.3 760.3C1600.5 759.2 1603.2 746.2 1604.4 741.8C1605.6 737.3 1608.2 723.7 1609.4 723.3C1610.6 722.9 1613.4 732.1 1614.5 738.4C1615.5 744.7 1617.6 766.1 1618.5 775.4C1619.4 784.7 1621.0 807.9 1621.8 815.7C1622.7 823.6 1624.3 839.3 1625.2 841.0C1626.1 842.6 1628.3 832.0 1629.6 829.2C1630.9 826.4 1634.5 819.8 1636.3 817.4C1638.1 815.0 1642.9 810.2 1644.7 809.0C1646.5 807.8 1649.9 806.3 1651.4 807.3C1652.9 808.3 1655.7 817.6 1657.2 817.4C1658.6 817.2 1661.5 807.5 1663.2 805.6C1664.9 803.8 1669.4 803.7 1671.6 802.3C1673.8 800.9 1679.7 796.7 1681.7 793.9C1683.7 791.1 1687.0 782.2 1688.4 778.7C1689.8 775.3 1692.1 768.1 1693.5 765.3C1694.9 762.5 1698.8 757.4 1700.2 755.2C1701.6 753.0 1703.6 747.7 1705.2 746.8C1706.9 745.9 1711.4 748.0 1713.6 747.8C1715.9 747.6 1722.1 747.1 1723.7 745.1C1725.4 743.2 1726.1 734.0 1727.1 731.7C1728.1 729.3 1730.7 726.2 1732.1 725.6C1733.6 725.0 1737.3 724.7 1738.9 726.6C1740.5 728.6 1744.0 738.7 1745.6 741.8C1747.2 744.8 1750.5 751.0 1752.3 751.8C1754.1 752.7 1758.9 750.1 1760.7 748.5C1762.5 746.9 1766.2 742.4 1767.5 738.4C1768.7 734.4 1770.1 719.1 1770.8 714.9C1771.5 710.6 1772.2 705.1 1773.2 703.1C1774.2 701.1 1777.7 700.3 1779.2 698.0C1780.8 695.8 1784.3 687.4 1785.9 684.6C1787.6 681.8 1791.1 677.1 1792.7 674.5C1794.3 671.9 1797.8 665.0 1799.4 662.7C1801.0 660.5 1804.5 658.0 1806.1 656.0C1807.7 654.0 1811.2 647.7 1812.8 645.9C1814.5 644.1 1818.2 641.9 1819.6 640.9C1821.0 639.9 1823.5 637.1 1824.6 637.5C1825.7 637.9 1828.0 641.4 1829.0 644.2C1830.0 647.1 1832.1 660.7 1833.0 661.1C1834.0 661.5 1836.1 650.1 1837.1 647.6C1838.1 645.1 1840.5 640.2 1841.4 640.2C1842.4 640.2 1843.9 643.9 1844.8 647.6C1845.7 651.3 1848.0 666.3 1849.2 671.1C1850.4 676.0 1853.4 684.3 1854.9 688.0C1856.4 691.6 1860.0 697.4 1861.6 701.4C1863.2 705.4 1866.9 716.7 1868.3 721.6C1869.7 726.4 1872.0 739.5 1873.4 741.8C1874.8 744.0 1878.5 739.9 1880.1 740.1C1881.7 740.3 1885.2 742.6 1886.8 743.4C1888.4 744.2 1892.1 746.0 1893.6 746.8C1895.0 747.6 1897.4 751.6 1898.6 750.2C1899.8 748.8 1902.4 739.3 1903.6 735.0C1904.8 730.8 1907.7 712.8 1908.7 714.9C1909.7 716.9 1911.2 750.6 1912.0 751.8C1912.9 753.1 1914.4 731.0 1915.4 724.9C1916.4 718.9 1919.8 704.2 1920.5 701.4"/>
<path class="c" stroke="#17179f" d="M192.8 562.3C193.0 562.3 194.6 562.3 195.1 562.3C195.7 562.3 196.9 562.3 197.5 562.3C198.1 562.4 199.3 563.0 199.9 563.1C200.5 563.1 201.7 562.5 202.3 562.5C202.9 562.5 204.1 563.2 204.7 563.3C205.2 563.4 206.5 563.5 207.0 563.4C207.6 563.4 208.8 563.3 209.4 563.2C209.9 563.1 211.2 562.5 211.7 562.6C212.3 562.6 213.5 563.6 214.1 563.7C214.6 563.7 215.9 562.7 216.4 562.7C217.0 562.7 218.2 563.5 218.8 563.7C219.3 563.8 220.6 564.0 221.1 563.9C221.7 563.8 223.0 563.1 223.6 563.0C224.2 563.0 225.5 563.1 226.1 563.2C226.7 563.3 227.9 563.8 228.5 564.0C229.1 564.2 230.4 564.9 231.0 565.0C231.6 565.0 232.9 564.6 233.5 564.3C234.1 564.1 235.4 563.1 236.0 562.9C236.7 562.7 238.0 562.5 238.6 562.5C239.2 562.5 240.6 562.8 241.2 562.7C241.8 562.7 243.1 561.7 243.8 561.9C244.4 562.0 245.8 563.4 246.5 563.7C247.2 563.9 248.6 563.6 249.2 563.7C249.9 563.7 251.3 564.6 252.0 564.3C252.7 564.1 254.3 562.1 255.1 561.5C255.8 560.9 257.3 559.0 258.1 559.2C259.0 559.4 261.5 562.7 262.3 563.3C263.1 563.9 264.2 564.3 264.8 564.1C265.4 563.9 266.8 561.9 267.4 561.8C268.0 561.7 269.4 563.2 270.0 563.3C270.6 563.4 271.9 562.5 272.5 562.3C273.2 562.0 274.6 561.4 275.3 561.1C275.9 560.9 277.4 560.2 278.0 560.1C278.7 560.0 280.1 560.2 280.8 560.2C281.5 560.2 283.1 560.1 283.9 560.4C284.6 560.6 286.3 562.3 286.9 562.3C287.6 562.3 288.9 560.7 289.5 560.3C290.1 559.9 291.5 558.9 292.1 559.2C292.7 559.5 294.0 562.2 294.7 563.0C295.3 563.7 296.5 565.3 297.2 565.3C297.9 565.4 299.6 563.5 300.3 563.1C301.0 562.7 302.7 562.3 303.4 562.3C304.1 562.2 305.3 562.4 306.0 562.4C306.6 562.5 307.9 562.6 308.5 562.6C309.2 562.5 310.5 562.0 311.1 562.0C311.7 561.9 313.0 562.0 313.7 562.3C314.4 562.5 316.0 563.5 316.8 563.9C317.5 564.3 319.1 565.4 319.8 565.3C320.5 565.3 321.9 563.6 322.6 563.2C323.2 562.8 324.7 562.2 325.3 562.0C326.0 561.9 327.4 561.7 328.1 561.9C328.8 562.0 330.4 562.9 331.2 563.5C331.9 564.0 333.6 566.0 334.2 566.4C334.9 566.8 336.2 566.8 336.8 566.8C337.4 566.8 338.8 566.3 339.4 566.2C340.0 566.1 341.3 565.9 342.0 566.0C342.6 566.0 343.9 566.3 344.5 566.4C345.1 566.4 346.5 566.4 347.1 566.3C347.7 566.2 349.0 565.9 349.7 565.8C350.3 565.6 351.6 565.2 352.2 565.2C352.9 565.1 354.2 565.5 354.8 565.3C355.4 565.2 356.6 564.1 357.2 563.6C357.8 563.1 359.0 561.6 359.6 561.0C360.2 560.3 361.4 558.4 362.0 558.1C362.6 557.9 364.0 558.8 364.6 559.1C365.2 559.5 366.5 561.1 367.1 561.2C367.8 561.3 369.1 560.2 369.7 559.9C370.3 559.5 371.7 558.1 372.3 558.1C372.9 558.2 374.2 559.8 374.9 560.3C375.5 560.8 376.8 561.7 377.4 562.3C378.1 562.8 379.5 564.6 380.2 565.1C380.8 565.7 382.3 566.5 382.9 566.9C383.6 567.3 385.0 569.2 385.7 568.4C386.4 567.6 388.0 560.7 388.7 560.2C389.5 559.7 391.1 563.6 391.8 564.3C392.6 565.0 394.2 565.4 394.9 565.9C395.7 566.4 397.3 568.3 398.0 568.4C398.7 568.6 400.3 567.5 401.1 566.9C401.8 566.3 403.3 563.5 404.2 563.3C405.0 563.1 407.4 565.6 408.3 565.3C409.1 565.1 410.6 562.2 411.4 561.4C412.1 560.7 413.7 559.3 414.4 559.2C415.1 559.1 416.5 560.2 417.2 560.7C417.8 561.2 419.3 562.7 419.9 563.2C420.6 563.6 422.0 564.6 422.7 564.3C423.4 564.0 425.0 561.2 425.8 560.5C426.5 559.7 428.2 559.4 428.8 558.1C429.5 556.9 430.3 550.0 430.9 549.9C431.5 549.8 433.1 556.5 434.0 557.1C434.8 557.7 437.3 555.7 438.1 555.1C438.9 554.4 440.1 552.7 440.7 552.0C441.3 551.2 442.6 549.6 443.2 548.9C443.9 548.2 445.6 546.7 446.3 546.3C447.1 546.0 448.7 546.2 449.4 545.8C450.1 545.4 451.5 543.5 452.2 542.8C452.8 542.0 454.2 540.4 454.9 539.5C455.6 538.7 456.8 535.9 457.6 535.5C458.5 535.2 460.9 536.8 461.7 536.6C462.6 536.3 464.1 534.3 464.8 533.6C465.6 532.8 467.2 531.1 467.9 530.4C468.6 529.7 470.0 528.5 470.7 527.7C471.3 526.9 472.7 524.9 473.4 524.1C474.1 523.3 475.5 521.8 476.1 521.1C476.8 520.5 478.2 519.1 478.9 518.5C479.5 517.8 481.0 516.3 481.6 515.6C482.3 515.0 483.8 514.1 484.4 512.9C484.9 511.7 485.4 507.2 486.4 505.7C487.4 504.2 491.1 502.2 492.6 500.6C494.1 499.0 497.5 494.3 498.8 492.3C500.0 490.4 501.9 485.6 502.9 484.1C503.9 482.6 506.0 481.8 507.0 480.0C508.0 478.2 509.8 471.8 511.1 469.1C512.4 466.4 516.4 460.8 517.8 457.3C519.3 453.9 521.7 444.9 522.9 440.5C524.1 436.1 526.7 425.6 527.9 420.3C529.1 415.1 531.8 402.8 533.0 396.8C534.2 390.7 536.9 375.1 538.0 369.9C539.1 364.6 541.1 356.5 542.1 353.1C543.1 349.6 545.1 344.3 546.4 341.3C547.8 338.3 551.5 331.3 553.2 327.9C554.8 324.4 558.3 317.0 559.9 312.7C561.5 308.5 565.2 296.8 566.6 292.6C568.0 288.3 570.4 280.2 571.7 277.4C572.9 274.7 575.3 270.7 576.7 269.7C578.1 268.7 582.0 268.5 583.4 269.0C584.8 269.5 587.1 272.6 588.5 274.1C589.9 275.5 593.2 279.4 595.2 280.8C597.2 282.1 602.5 284.4 605.3 285.2C608.1 285.9 615.5 287.0 618.7 286.8C622.0 286.7 628.4 285.3 632.2 284.1C635.9 283.0 647.1 278.4 650.0 277.4C652.9 276.4 654.7 277.1 656.7 275.7C658.7 274.3 664.0 269.3 666.8 265.6C669.6 262.0 677.8 249.9 680.3 245.5C682.7 241.0 685.2 232.5 687.0 228.7C688.8 224.8 693.8 214.3 695.4 213.5C697.0 212.7 699.0 217.3 700.4 221.9C701.9 226.6 705.6 244.9 707.2 252.2C708.8 259.5 712.3 276.8 713.9 282.5C715.5 288.1 718.6 293.6 720.6 299.3C722.6 304.9 728.3 321.9 730.7 329.5C733.1 337.2 738.4 355.9 740.8 363.2C743.2 370.4 748.5 383.8 750.9 390.1C753.3 396.3 758.9 411.2 761.0 415.3C763.0 419.4 765.7 422.1 767.7 424.4C769.7 426.7 776.0 433.3 777.8 434.5C779.6 435.6 781.2 435.5 782.8 433.8C784.4 432.1 789.4 423.0 791.2 420.3C793.0 417.7 796.3 412.7 798.0 411.9C799.6 411.1 803.1 412.2 804.7 413.6C806.3 415.0 809.8 420.5 811.4 423.7C813.0 426.9 816.1 435.7 818.1 440.5C820.2 445.3 825.8 459.2 828.2 464.0C830.6 468.9 835.9 477.4 838.3 480.9C840.7 484.3 846.0 490.4 848.4 492.6C850.8 494.8 856.1 498.5 858.5 499.4C860.9 500.2 866.4 498.9 868.6 499.4C870.8 499.8 875.2 503.4 877.0 503.4C878.8 503.4 882.1 501.7 883.7 499.4C885.3 497.1 888.8 488.3 890.4 484.2C892.0 480.2 895.3 469.4 897.2 465.7C899.0 462.1 903.9 457.8 905.6 454.0C907.2 450.1 909.4 440.6 910.6 433.8C911.8 426.9 914.6 406.5 915.6 396.8C916.7 387.1 918.2 360.3 919.0 353.1C919.8 345.8 921.6 339.3 922.4 336.3C923.2 333.2 924.7 326.6 925.7 327.9C926.7 329.1 929.6 340.9 930.8 346.4C932.0 351.8 934.8 368.4 935.8 373.3C936.8 378.1 938.2 384.7 939.2 386.7C940.2 388.7 942.6 388.0 944.2 390.1C945.8 392.1 950.4 401.1 952.6 403.5C954.9 405.9 960.9 411.1 962.7 410.2C964.5 409.4 966.8 400.4 967.8 396.8C968.8 393.2 970.4 382.4 971.1 380.0C971.8 377.6 972.7 373.8 973.5 376.6C974.3 379.4 976.9 396.3 977.9 403.5C978.8 410.8 980.2 429.5 981.2 437.1C982.2 444.8 984.9 461.8 986.3 467.4C987.7 473.1 991.0 480.4 993.0 484.2C995.0 488.1 1000.7 496.1 1003.1 499.4C1005.5 502.6 1010.3 508.7 1013.2 511.1C1016.0 513.5 1023.4 517.9 1026.6 519.5C1029.8 521.1 1038.5 524.0 1040.1 524.6"/>
<path class="c" stroke="#17179f" d="M1072.0 568.6C1073.4 568.3 1081.6 566.9 1083.8 566.2C1086.0 565.5 1089.1 563.4 1090.5 562.9C1091.9 562.3 1093.9 563.0 1095.6 561.9C1097.2 560.7 1102.1 555.7 1104.0 553.5C1105.8 551.2 1109.5 546.8 1110.7 543.4C1111.9 539.9 1113.0 533.3 1114.0 524.6C1115.1 515.9 1117.9 483.3 1119.1 470.8C1120.3 458.3 1123.1 432.4 1124.1 420.3C1125.1 408.2 1126.6 378.6 1127.5 369.9C1128.4 361.2 1130.5 349.2 1131.5 348.0C1132.5 346.8 1134.8 357.2 1135.9 359.8C1137.0 362.4 1139.7 370.3 1140.9 369.9C1142.2 369.5 1144.8 362.1 1146.0 356.4C1147.2 350.8 1150.1 328.7 1151.0 322.8C1152.0 317.0 1152.9 307.7 1153.7 307.7C1154.5 307.7 1156.9 315.3 1157.8 322.8C1158.6 330.3 1160.3 356.6 1161.1 369.9C1161.9 383.2 1163.6 422.5 1164.5 433.8C1165.4 445.1 1167.5 461.6 1168.5 464.0C1169.5 466.5 1171.6 461.2 1172.9 454.0C1174.2 446.7 1178.0 415.6 1179.6 403.5C1181.2 391.4 1184.9 364.4 1186.3 353.1C1187.8 341.8 1190.2 316.6 1191.4 309.4C1192.6 302.1 1195.2 292.6 1196.4 292.6C1197.6 292.6 1200.1 300.9 1201.5 309.4C1202.9 317.8 1206.6 350.7 1208.2 363.2C1209.8 375.7 1213.3 403.5 1214.9 413.6C1216.5 423.7 1219.6 440.0 1221.7 447.2C1223.7 454.5 1229.3 469.1 1231.7 474.1C1234.2 479.2 1239.8 489.3 1241.8 489.3C1243.8 489.3 1246.9 478.0 1248.6 474.1C1250.2 470.3 1253.3 460.5 1255.3 457.3C1257.3 454.1 1263.3 450.5 1265.4 447.2C1267.4 444.0 1270.5 432.2 1272.1 430.4C1273.7 428.6 1277.2 430.9 1278.8 432.1C1280.4 433.3 1284.3 438.3 1285.5 440.5C1286.8 442.7 1287.7 449.2 1288.9 450.6C1290.1 452.0 1294.9 451.9 1295.6 452.3C1296.4 452.7 1294.5 456.6 1295.0 454.0C1295.5 451.3 1299.0 440.5 1300.0 430.4C1301.1 420.3 1302.5 381.6 1303.4 369.9C1304.3 358.2 1306.8 334.9 1307.8 332.9C1308.8 330.9 1310.7 343.4 1311.8 353.1C1312.9 362.8 1315.4 401.5 1316.9 413.6C1318.3 425.7 1322.2 447.7 1323.6 454.0C1325.0 460.2 1327.4 465.7 1328.6 465.7C1329.8 465.7 1332.5 460.2 1333.7 454.0C1334.9 447.7 1337.3 421.7 1338.7 413.6C1340.1 405.5 1344.1 390.7 1345.4 386.7C1346.7 382.7 1348.3 378.8 1349.5 380.0C1350.7 381.2 1354.0 389.1 1355.5 396.8C1357.1 404.5 1360.6 434.6 1362.3 443.9C1363.9 453.2 1367.8 469.9 1369.0 474.1C1370.2 478.4 1371.3 480.4 1372.3 479.2C1373.3 478.0 1376.4 467.1 1377.4 464.0C1378.4 461.0 1379.7 454.4 1380.7 454.0C1381.8 453.6 1384.6 458.3 1385.8 460.7C1387.0 463.1 1389.4 472.3 1390.8 474.1C1392.2 475.9 1396.1 474.6 1397.6 475.8C1399.0 477.0 1401.4 482.8 1402.6 484.2C1403.8 485.6 1406.4 489.2 1407.6 487.6C1408.9 486.0 1411.7 473.9 1412.7 470.8C1413.7 467.6 1415.2 461.4 1416.1 461.4C1416.9 461.4 1419.1 466.8 1420.1 470.8C1421.1 474.7 1423.5 490.4 1424.5 494.3C1425.5 498.2 1427.3 504.2 1428.5 503.4C1429.7 502.6 1433.2 495.5 1434.5 487.6C1435.9 479.6 1438.6 450.1 1439.6 437.1C1440.6 424.2 1442.1 390.3 1443.0 380.0C1443.8 369.7 1445.5 353.4 1446.3 351.4C1447.1 349.4 1448.9 356.9 1449.7 363.2C1450.5 369.4 1452.0 395.9 1453.0 403.5C1454.1 411.2 1456.9 425.8 1458.1 427.1C1459.3 428.3 1462.1 421.3 1463.1 413.6C1464.1 405.9 1465.7 372.4 1466.5 363.2C1467.3 353.9 1469.1 340.7 1469.9 336.3C1470.7 331.8 1472.2 325.4 1473.2 326.2C1474.2 327.0 1477.1 338.8 1478.3 343.0C1479.5 347.2 1482.1 360.7 1483.3 361.5C1484.5 362.3 1487.3 356.8 1488.4 349.7C1489.4 342.7 1490.9 316.4 1491.7 302.6C1492.5 288.9 1494.3 247.5 1495.1 235.4C1495.9 223.3 1497.2 207.0 1498.4 201.8C1499.7 196.5 1503.8 190.9 1505.2 191.7C1506.6 192.5 1509.0 202.0 1510.2 208.5C1511.4 214.9 1514.2 243.1 1515.3 245.5C1516.3 247.9 1517.8 235.9 1518.6 228.7C1519.4 221.4 1521.2 194.6 1522.0 184.9C1522.8 175.3 1524.3 153.2 1525.3 148.0C1526.4 142.7 1529.0 143.0 1530.4 141.2C1531.8 139.4 1535.7 132.8 1537.1 132.8C1538.5 132.8 1541.1 135.0 1542.2 141.2C1543.2 147.5 1544.7 173.6 1545.5 184.9C1546.3 196.2 1548.1 223.3 1548.9 235.4C1549.7 247.5 1551.4 275.3 1552.2 285.8C1553.0 296.3 1554.6 314.7 1555.6 322.8C1556.6 330.9 1559.6 346.2 1560.6 353.1C1561.7 359.9 1563.1 373.9 1564.0 380.0C1564.9 386.0 1567.2 403.9 1568.0 403.5C1568.9 403.1 1570.0 381.9 1570.7 376.6C1571.5 371.4 1573.3 359.0 1574.1 359.8C1574.9 360.6 1576.7 376.1 1577.5 383.3C1578.3 390.6 1579.9 412.3 1580.8 420.3C1581.7 428.4 1583.9 444.9 1584.9 450.6C1585.9 456.2 1588.1 465.6 1589.2 467.4C1590.4 469.2 1593.1 464.9 1594.3 465.7C1595.5 466.5 1598.1 474.7 1599.3 474.1C1600.5 473.5 1603.2 463.3 1604.4 460.7C1605.6 458.1 1608.2 451.5 1609.4 452.3C1610.6 453.1 1613.2 462.4 1614.5 467.4C1615.7 472.5 1618.3 489.1 1619.5 494.3C1620.7 499.6 1623.1 508.5 1624.5 511.1C1626.0 513.7 1629.2 515.2 1631.3 516.2C1633.3 517.2 1638.9 519.3 1641.4 519.5C1643.8 519.7 1649.6 517.6 1651.4 517.8C1653.3 518.0 1654.9 521.2 1656.5 521.2C1658.1 521.2 1662.7 518.9 1664.9 517.8C1667.1 516.8 1672.8 514.4 1675.0 512.8C1677.2 511.2 1681.6 507.0 1683.4 504.4C1685.2 501.8 1688.3 494.6 1690.1 490.9C1691.9 487.3 1696.5 477.0 1698.5 474.1C1700.5 471.3 1704.9 468.6 1706.9 467.4C1708.9 466.2 1713.3 465.7 1715.3 464.0C1717.3 462.4 1721.9 456.6 1723.7 454.0C1725.6 451.3 1728.6 443.8 1730.5 442.2C1732.3 440.6 1736.9 439.7 1738.9 440.5C1740.9 441.3 1745.3 447.8 1747.3 448.9C1749.3 450.0 1753.5 450.3 1755.7 449.9C1757.9 449.5 1764.1 447.5 1765.8 445.6C1767.5 443.6 1769.0 438.0 1769.8 433.8C1770.6 429.5 1771.2 413.9 1772.5 410.2C1773.8 406.6 1779.3 405.7 1780.9 403.5C1782.5 401.3 1784.5 394.0 1785.9 391.7C1787.4 389.5 1791.1 387.2 1792.7 385.0C1794.3 382.8 1797.8 375.3 1799.4 373.3C1801.0 371.2 1804.5 370.0 1806.1 368.2C1807.7 366.4 1811.2 360.3 1812.8 358.1C1814.5 355.9 1818.0 351.1 1819.6 349.7C1821.2 348.3 1825.1 345.1 1826.3 346.4C1827.5 347.6 1828.9 356.8 1829.7 359.8C1830.5 362.8 1832.1 371.6 1833.0 371.6C1833.9 371.6 1836.2 362.4 1837.1 359.8C1837.9 357.2 1839.5 349.7 1840.4 349.7C1841.3 349.7 1843.7 356.2 1844.8 359.8C1845.9 363.4 1848.4 375.7 1849.8 380.0C1851.2 384.2 1854.9 391.9 1856.6 395.1C1858.2 398.3 1861.7 403.0 1863.3 406.9C1864.9 410.7 1868.6 424.0 1870.0 427.1C1871.4 430.1 1873.4 430.9 1875.1 432.1C1876.7 433.3 1881.6 435.5 1883.5 437.1C1885.3 438.8 1888.8 443.9 1890.2 445.6C1891.6 447.2 1894.2 450.8 1895.2 450.6C1896.2 450.4 1897.6 443.7 1898.6 443.9C1899.6 444.1 1902.6 453.1 1903.6 452.3C1904.6 451.5 1906.3 442.6 1907.0 437.1C1907.7 431.7 1908.8 406.9 1909.4 406.9C1910.0 406.9 1911.4 435.5 1912.0 437.1C1912.7 438.8 1913.8 414.3 1914.4 420.3C1915.0 426.4 1916.4 483.5 1917.1 487.6C1917.7 491.6 1919.5 458.0 1919.8 454.0"/>
<path class="d" d="M543.7 279.0 V1028.0"/>
<path class="d" d="M577.4 242.0 V949.0"/>
<path class="d" d="M697.0 176.0 V854.0"/>
<path class="d" d="M804.0 356.0 V1067.0"/>
<path class="d" d="M897.2 387.0 V1167.0"/>
<path class="d" d="M920.0 272.0 V1148.0"/>
<path class="d" d="M941.2 114.0 V1130.0"/>
<path class="d" d="M955.3 320.0 V1120.0"/>
<path class="d" d="M974.5 353.0 V1167.0"/>
<path class="d" d="M1130.2 242.0 V891.0"/>
<path class="d" d="M1153.4 232.0 V836.0"/>
<path class="d" d="M1197.0 188.0 V807.0"/>
<path class="d" d="M1308.5 266.0 V858.0"/>
<path class="d" d="M1348.8 331.0 V920.0"/>
<path class="ds" d="M454.0 168.0 L541.4 279.0"/>
<path class="ds" d="M833.3 275.7 L897.2 386.7"/>
<path class="ds" d="M865.2 195.0 L920.0 272.4"/>
<path class="ds" d="M981.2 277.4 L955.3 319.5"/>
<path class="ds" d="M1020.0 333.0 L974.5 353.0"/>
<path class="ds" d="M1077.0 210.0 L1130.2 242.0"/>
<path class="ds" d="M1132.5 168.0 L1153.4 232.0"/>
<path class="ds" d="M1225.0 148.0 L1197.0 190.0"/>
<path d="M1921.0 387.5 V592" fill="none" stroke="#17179f" stroke-width="5.4" opacity="0.85"/>
<path d="M1921.0 700 V738" fill="none" stroke="#ff1010" stroke-width="5.4" opacity="0.85"/>
<path class="f" stroke-linejoin="round" d="M1042.5 41.6 H196.3 Q192.3 41.6 192.3 45.6 V1385.6 H1043.5"/>
<path class="f" stroke-linejoin="round" d="M1073 41.6 H1916.1 Q1920.1 41.6 1920.1 45.6 V1381.6 Q1920.1 1385.6 1916.1 1385.6 H1074"/>
<path class="f" d="M192.3 1385.6 V1412"/>
<path d="M192.3 561.5 V593" fill="none" stroke="#17179f" stroke-width="4.6" opacity="0.92"/>
<path d="M1026.6 69.0 L1050.2 27.5" fill="none" stroke="#2a2a2a" stroke-width="3.3" stroke-linecap="round"/>
<path d="M1057.5 69.0 L1080.6 27.5" fill="none" stroke="#2a2a2a" stroke-width="3.3" stroke-linecap="round"/>
<path d="M1026.6 1412.5 L1056.8 1360.0" fill="none" stroke="#2a2a2a" stroke-width="3.3" stroke-linecap="round"/>
<path d="M1057.3 1412.5 L1086.2 1360.0" fill="none" stroke="#2a2a2a" stroke-width="3.3" stroke-linecap="round"/>
<path class="t" d="M530.8 1385.6 V1412"/>
<path class="t" d="M871.2 1385.6 V1412"/>
<path class="t" d="M1228.6 1385.6 V1412"/>
<path class="t" d="M1544.1 1385.6 V1412"/>
<path class="t" d="M1857.4 1385.6 V1412"/>
<path class="t" d="M361.8 1385.6 V1397.5"/>
<path class="t" d="M700.4 1385.6 V1397.5"/>
<path class="t" d="M1385.8 1385.6 V1397.5"/>
<path class="t" d="M1699.5 1385.6 V1397.5"/>
<text class="tk" x="192.0" y="1471.8">4000</text>
<text class="tk" x="531.4" y="1471.8">3500</text>
<text class="tk" x="871.4" y="1471.8">3000</text>
<text class="tk" x="1229.0" y="1471.8">1500</text>
<text class="tk" x="1543.6" y="1471.8">1000</text>
<text class="tk" x="1857.5" y="1471.8">500</text>
<text class="ax" x="702.2" y="1593.2" font-size="71" textLength="711.2" lengthAdjust="spacingAndGlyphs">Wavenumbers [cm<tspan font-size="45" dy="-31">-1</tspan><tspan dy="31">]</tspan></text>
<text class="ax" transform="translate(81.6 970.3) rotate(-90)" font-size="74.5" textLength="400.6" lengthAdjust="spacingAndGlyphs">Absorbance</text>
<text class="ax" transform="translate(81.6 544) rotate(-90)" font-size="74.5" textLength="143.6" lengthAdjust="spacingAndGlyphs">[a.u]</text>
<path d="M223.6 98.2 V306.2" fill="none" stroke="#1c1c1c" stroke-width="5" stroke-linecap="round"/>
<text x="231.8" y="218.8" font-size="59.6" fill="#0a0a0a" stroke="#0a0a0a" stroke-width="0.5">0.05</text>
<text class="pk" x="385.8" y="147.5">3478</text>
<text class="pk" x="521.6" y="198.9">3437</text>
<text class="pk" x="651.6" y="138.2">3261</text>
<text class="pk" x="896.5" y="101.0">2889</text>
<text class="pk" x="793.4" y="175.5">2925</text>
<text class="pk" x="760.0" y="254.8">2961</text>
<text class="pk" x="750.2" y="344.7">3102</text>
<text class="pk" x="994.3" y="319.0">2875</text>
<text class="pk" x="1005.6" y="202.2">1655</text>
<text class="pk" x="1067.0" y="159.3">1620</text>
<text class="pk" x="1182.1" y="127.1">1560</text>
<text class="pk" x="1258.4" y="246.7">1376</text>
<text class="pk" x="1334.5" y="307.4">1311</text>
<text class="pk" style="font-size:48.3px" x="975.8" y="266.4">2881</text>
<text x="236.9" y="510" font-size="74" fill="#3737b4" transform="translate(236.9 0) scale(0.9 1) translate(-236.9 0)" dx="0">a</text>
<text x="238" y="788.6" font-size="81" fill="#ff1010">b</text>
<text x="231.5" y="1288.6" font-size="74" fill="#0a0a0a">c</text>
</g>
</svg>
</body></html>
